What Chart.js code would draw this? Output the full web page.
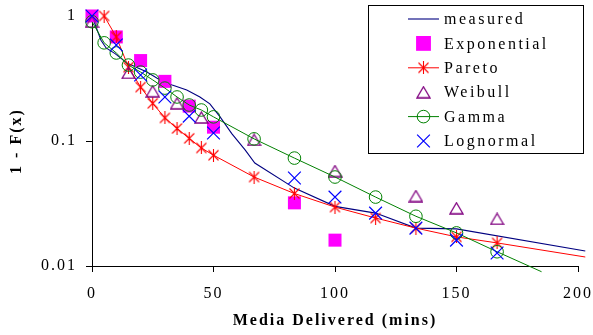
<!DOCTYPE html>
<html><head><meta charset="utf-8">
<style>html,body{margin:0;padding:0;background:#fff;}</style>
<script src="https://cdn.jsdelivr.net/npm/chart.js@4.4.1/dist/chart.umd.min.js"></script>
</head><body>
<canvas id="c" width="593" height="335"></canvas>
<script>
// ---- data ----
const seriesNames = ['measured', 'Exponential', 'Pareto', 'Weibull', 'Gamma', 'Lognormal'];

const measuredX = [0, 3.7, 5.8, 9.5, 14.4, 22.6, 28, 33, 39, 44.4, 48.5, 52.7, 57.6, 63, 67, 83.3, 100, 116.7, 133.3, 150, 203];
const measuredY = [1, 0.64, 0.555, 0.5, 0.42, 0.356, 0.308, 0.28, 0.256, 0.225, 0.198, 0.156, 0.114, 0.085, 0.0667, 0.042, 0.030, 0.0265, 0.0201, 0.0198, 0.0132];

const exponentialX = [0, 10, 20, 30, 40, 50, 83.3, 100];
const exponentialY = [1, 0.68, 0.44, 0.30, 0.19, 0.129, 0.032, 0.0161];

const paretoX = [5, 10, 15, 20, 25, 30, 35, 40, 45, 50, 66.7, 83.3, 100, 116.7, 133.3, 150, 166.7, 203];
const paretoY = [1, 0.68, 0.39, 0.27, 0.20, 0.153, 0.126, 0.105, 0.088, 0.077, 0.0515, 0.038, 0.0296, 0.0242, 0.0201, 0.0171, 0.0153, 0.0118];

const weibullX = [0, 15, 25, 35, 45, 66.7, 100, 133.3, 150, 166.7];
const weibullY = [0.9, 0.35, 0.25, 0.20, 0.154, 0.102, 0.0575, 0.0363, 0.029, 0.0238];

const gammaX = [0, 5, 10, 15, 20, 25, 30, 35, 40, 45, 50, 66.7, 83.3, 100, 116.7, 133.3, 150, 166.7, 185];
const gammaY = [0.9, 0.61, 0.506, 0.405, 0.356, 0.308, 0.265, 0.225, 0.194, 0.177, 0.156, 0.104, 0.073, 0.0515, 0.0356, 0.025, 0.0184, 0.013, 0.009];

const lognormalX = [0, 10, 20, 30, 40, 50, 83.3, 100, 116.7, 133.3, 150, 166.7];
const lognormalY = [1, 0.586, 0.337, 0.225, 0.158, 0.116, 0.0506, 0.0356, 0.0265, 0.0201, 0.0161, 0.0127];

const xTicks = [0, 50, 100, 150, 200];
const yTicks = [0.01, 0.1, 1];
const yTickLabels = ['0.01', '0.1', '1'];
const xTitle = 'Media Delivered (mins)';
const yTitle = '1 - F(x)';

// ---- marker images ----
function asterisk(color) {
  const c = document.createElement('canvas'); c.width = 13; c.height = 13;
  const g = c.getContext('2d'); g.strokeStyle = color; g.lineWidth = 1.1;
  g.beginPath();
  g.moveTo(1.5, 1.5); g.lineTo(11.5, 11.5);
  g.moveTo(11.5, 1.5); g.lineTo(1.5, 11.5);
  g.moveTo(6.5, 0); g.lineTo(6.5, 13);
  g.stroke();
  return c;
}
function triangle(color) {
  const c = document.createElement('canvas'); c.width = 15; c.height = 13;
  const g = c.getContext('2d'); g.strokeStyle = color; g.lineWidth = 1.3;
  g.beginPath(); g.moveTo(7.5, 1); g.lineTo(14, 12); g.lineTo(1, 12); g.closePath(); g.stroke();
  return c;
}

const zip = (xs, ys) => xs.map((x, i) => ({x: x, y: ys[i]}));
const F = 'Liberation Serif, Times New Roman, serif';

const datasets = [
  {label: seriesNames[0], data: zip(measuredX, measuredY), borderColor: '#000080', borderWidth: 1.1, pointRadius: 0, showLine: true, order: 6},
  {label: seriesNames[1], data: zip(exponentialX, exponentialY), backgroundColor: '#ff00ff', borderColor: '#ff00ff', borderWidth: 0, pointStyle: 'rect', pointRadius: 9.2, showLine: false, order: 5},
  {label: seriesNames[2], data: zip(paretoX, paretoY), borderColor: '#ff0000', borderWidth: 1, pointStyle: asterisk('#ff0000'),
    pointRadius: ctx => ctx.dataIndex === paretoX.length - 1 ? 0 : 6, showLine: true, order: 4},
  {label: seriesNames[3], data: zip(weibullX, weibullY), borderColor: '#800080', borderWidth: 1, pointStyle: triangle('#800080'), pointRadius: 7, showLine: false, order: 3},
  {label: seriesNames[4], data: zip(gammaX, gammaY), borderColor: '#008000', backgroundColor: 'rgba(0,0,0,0)', borderWidth: 1, pointStyle: 'circle',
    pointRadius: ctx => ctx.dataIndex === gammaX.length - 1 ? 0 : 6.3, pointBorderWidth: 1, showLine: true, order: 2},
  {label: seriesNames[5], data: zip(lognormalX, lognormalY), borderColor: '#0000ff', borderWidth: 1.2, pointStyle: 'crossRot', pointRadius: 9, showLine: false, order: 1}
];
datasets.forEach(d => { d.clip = false; d.tension = 0; d.fill = false; d.pointHoverRadius = d.pointRadius; });

const spacing = {
  id: 'spacing',
  beforeDraw(chart) { chart.ctx.letterSpacing = '2px'; }
};

const legendBox = {
  id: 'legendBox',
  afterDraw(chart) {
    const ctx = chart.ctx;
    ctx.save();
    ctx.letterSpacing = '2.5px';
    ctx.fillStyle = '#fff';
    ctx.fillRect(368, 5, 215, 148);
    ctx.strokeStyle = '#000'; ctx.lineWidth = 1;
    ctx.strokeRect(368.5, 5.5, 215, 148);
    const cx = 423.5;
    chart.data.datasets.forEach((d, i) => {
      const y = 19 + i * 24.4;
      if (d.showLine) {
        ctx.strokeStyle = d.borderColor; ctx.lineWidth = d.borderWidth;
        ctx.beginPath(); ctx.moveTo(408, y); ctx.lineTo(439, y); ctx.stroke();
      }
      const r = typeof d.pointRadius === 'function' ? 6.3 : d.pointRadius;
      if (r > 0) {
        ctx.fillStyle = d.backgroundColor || 'rgba(0,0,0,0)';
        ctx.strokeStyle = d.borderColor;
        ctx.lineWidth = d.pointBorderWidth || d.borderWidth || 1;
        Chart.helpers.drawPoint(ctx, {pointStyle: d.pointStyle, rotation: 0, radius: d.pointStyle === 'rect' ? 10.5 : r, borderWidth: d.pointStyle === 'rect' ? 0 : (d.pointBorderWidth || d.borderWidth || 1)}, cx, y);
      }
      ctx.fillStyle = '#000';
      ctx.font = '16px ' + F;
      ctx.textAlign = 'left'; ctx.textBaseline = 'middle';
      ctx.fillText(d.label, 444, y + 1);
    });
    ctx.restore();
  }
};

new Chart(document.getElementById('c'), {
  type: 'scatter',
  data: {datasets: datasets},
  plugins: [spacing, legendBox],
  options: {
    responsive: false,
    animation: false,
    events: [],
    layout: {padding: {top: 16, right: 15, left: 0, bottom: 0}},
    plugins: {legend: {display: false}, tooltip: {enabled: false}},
    scales: {
      x: {
        type: 'linear', min: 0, max: 200,
        afterBuildTicks: s => { s.ticks = xTicks.map(v => ({value: v})); },
        afterFit: s => { s.height = 69; s.paddingLeft = 0; s.paddingRight = 0; },
        ticks: {color: '#000', font: {family: F, size: 16}, padding: 12, maxRotation: 0, autoSkip: false},
        grid: {drawOnChartArea: false, drawTicks: true, tickLength: 6, color: '#000'},
        border: {display: true, color: '#000', width: 1},
        title: {display: true, text: xTitle, color: '#000', font: {family: F, size: 16, weight: 'bold'}, padding: {top: 0, bottom: 5}}
      },
      y: {
        type: 'logarithmic', min: 0.01, max: 1,
        afterBuildTicks: s => { s.ticks = yTicks.map(v => ({value: v})); },
        afterFit: s => { s.width = 92; s.paddingTop = 0; s.paddingBottom = 0; },
        ticks: {color: '#000', font: {family: F, size: 16}, padding: 9, autoSkip: false,
          callback: v => { const i = yTicks.indexOf(v); return i >= 0 ? yTickLabels[i] : ''; }},
        grid: {drawOnChartArea: false, drawTicks: true, tickLength: 6, color: '#000'},
        border: {display: true, color: '#000', width: 1},
        title: {display: true, text: yTitle, color: '#000', font: {family: F, size: 16, weight: 'bold'}, padding: {top: 7, bottom: 0}}
      }
    }
  }
});
</script>
</body></html>
